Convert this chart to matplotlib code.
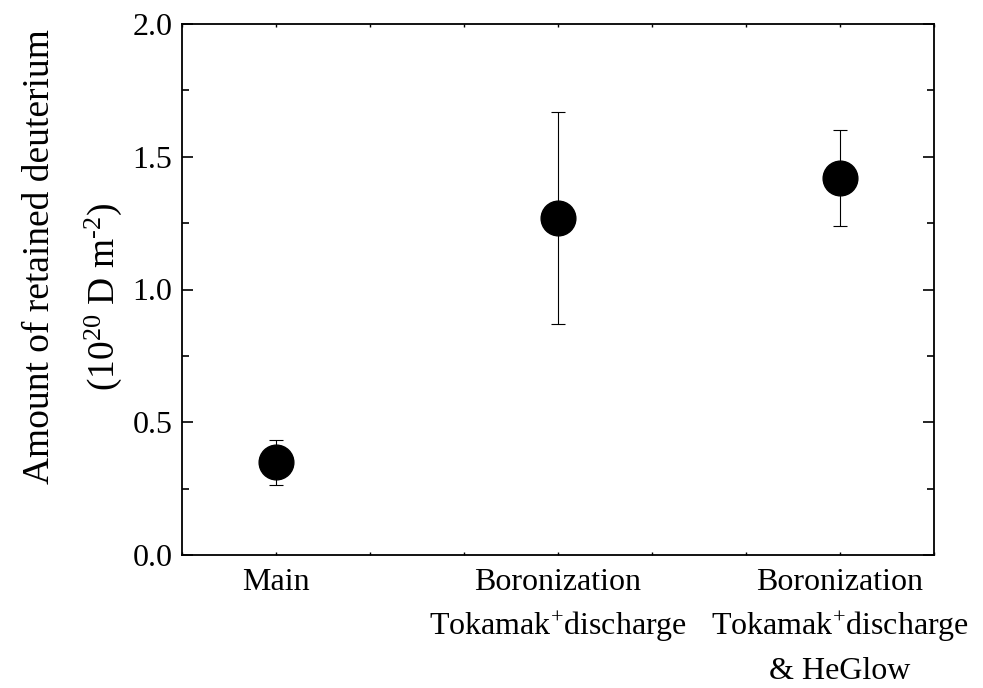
import matplotlib
matplotlib.use('Agg')
import matplotlib.pyplot as plt
import numpy as np
from matplotlib.ticker import MultipleLocator

plt.rcParams['font.family'] = ['Liberation Serif', 'DejaVu Serif']
plt.rcParams['mathtext.fontset'] = 'custom'
plt.rcParams['mathtext.rm'] = 'Liberation Serif'
plt.rcParams['mathtext.it'] = 'Liberation Serif:italic'

# data
categories = ['Main',
              'Boronization\nTokamak$^{+}$discharge',
              'Boronization\nTokamak$^{+}$discharge\n& HeGlow']
retained = [0.35, 1.27, 1.42]
err_low = [0.085, 0.40, 0.18]
err_high = [0.085, 0.40, 0.18]
yticks = [0, 0.5, 1.0, 1.5, 2.0]
ytick_labels = ['0.0', '0.5', '1.0', '1.5', '2.0']

xpos = np.arange(1, len(categories) + 1)

fig = plt.figure(figsize=(9.83, 6.88), dpi=100, facecolor='w')
ax = fig.add_axes([182/983, 133/688, 752/983, 531/688])

ax.errorbar(xpos, retained, yerr=[err_low, err_high], fmt='o', color='k',
            markersize=25, ecolor='k', elinewidth=0.8, capsize=5, capthick=0.8)

ax.set_xlim(2/3, 3 + 1/3)
ax.set_ylim(0, 2.0)
ax.set_xticks(xpos)
ax.set_xticklabels(categories, fontsize=23, linespacing=1.55)
ax.xaxis.set_minor_locator(MultipleLocator(1/3))
ax.set_yticks(yticks)
ax.set_yticklabels(ytick_labels, fontsize=23)
ax.yaxis.set_minor_locator(MultipleLocator(0.25))

ax.tick_params(axis='y', which='major', direction='in', length=8, width=1.2,
               left=True, right=True, pad=7)
ax.tick_params(axis='y', which='minor', direction='in', length=5, width=1.2,
               left=True, right=True)
ax.tick_params(axis='x', which='both', direction='in', length=2.5, width=1,
               top=True, bottom=True, pad=9)
for sp in ax.spines.values():
    sp.set_linewidth(1.3)

# y label, two lines placed separately
fig.text(49/983, 1 - 257/688, 'Amount of retained deuterium',
         rotation=90, rotation_mode='anchor', ha='center', va='baseline',
         fontsize=27)
fig.text(114/983, 1 - 297/688, r'(10$^{20}$ D m$^{\text{-}2}$)',
         rotation=90, rotation_mode='anchor', ha='center', va='baseline',
         fontsize=27)

fig.savefig('out.png', dpi=100)
